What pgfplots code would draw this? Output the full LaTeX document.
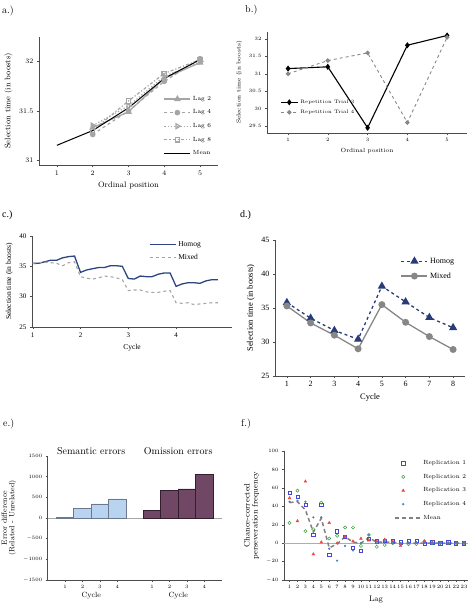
\documentclass[border=0pt]{standalone}
\usepackage{fontspec}
\usepackage{pgfplots}
\pgfplotsset{compat=1.18}
\newfontfamily\tms{Liberation Serif}
\newcommand\fs[1]{\fontsize{#1}{#1}\selectfont}
\definecolor{hblue}{RGB}{45,70,130}
\definecolor{dblue}{RGB}{40,60,120}
\definecolor{lgray}{RGB}{165,165,165}
\definecolor{mgray}{RGB}{135,135,135}
\definecolor{semblue}{RGB}{185,212,240}
\definecolor{semedge}{RGB}{110,120,140}
\definecolor{ompurple}{RGB}{112,72,102}
\definecolor{omedge}{RGB}{50,30,45}
\definecolor{r1}{RGB}{70,70,220}
\definecolor{r2}{RGB}{60,160,60}
\definecolor{r3}{RGB}{235,70,70}
\definecolor{r4}{RGB}{70,130,190}
\pgfplotsset{
  every axis/.append style={scale only axis, axis lines*=left,
    axis line style={-,black!70,line width=0.4pt}, tick align=outside,
    major tick length=2pt, tick style={black!70,line width=0.4pt}, clip=false},
  longleg/.style={legend image code/.code={\draw[mark repeat=2,mark phase=2] plot coordinates {(0pt,0pt)(13pt,0pt)(26pt,0pt)};}},
}
\begin{document}
\begin{tikzpicture}
\useasboundingbox (0pt,0pt) rectangle (470pt,-603pt);
\node[anchor=base west,font=\fs{10},inner sep=0] at (2pt,-13pt) {a.)};
\node[anchor=base west,font=\fs{10},inner sep=0] at (245pt,-12pt) {b.)};
\node[anchor=base west,font=\tms\fs{10},inner sep=0] at (2pt,-217pt) {c.)};
\node[anchor=base west,font=\tms\fs{10},inner sep=0] at (240pt,-217pt) {d.)};
\node[anchor=base west,font=\fs{10},inner sep=0] at (3pt,-426pt) {e.)};
\node[anchor=base west,font=\fs{10},inner sep=0] at (241pt,-426pt) {f.)};

% ---------- a
\begin{axis}[at={(39pt,-165pt)}, anchor=south west, width=179pt, height=128pt,
  xmin=0.5, xmax=5.5, ymin=30.95, ymax=32.25, xtick={1,2,3,4,5}, ytick={31,31.5,32},
  tick label style={font=\fs{7}}, label style={font=\fs{8}},
  xlabel={Ordinal position}, ylabel={Selection time (in boosts)},
  legend style={draw=none, fill=none, font=\fs{6}, at={(0.99,0.57)}, anchor=north east, row sep=4pt},
  legend cell align=left, longleg]
\addplot[lgray, line width=1.2pt, mark=triangle*, mark size=2.8pt] coordinates {(2,31.33)(3,31.49)(4,31.83)(5,31.99)};
\addplot[lgray, line width=1.2pt, dashed, mark=*, mark size=2.2pt, mark options={solid}] coordinates {(2,31.26)(3,31.5)(4,31.8)(5,32.03)};
\addplot[lgray, line width=1.2pt, dotted, mark=triangle, mark size=2.8pt, mark options={solid,rotate=-90}] coordinates {(2,31.35)(3,31.55)(4,31.85)(5,32.0)};
\addplot[lgray, line width=1.2pt, dash dot, mark=square, mark size=2.2pt, mark options={solid}] coordinates {(2,31.3)(3,31.6)(4,31.88)(5,32.02)};
\addplot[black, line width=1pt] coordinates {(1,31.15)(2,31.3)(3,31.53)(4,31.83)(5,32.02)};
\legend{Lag 2, Lag 4, Lag 6, Lag 8, Mean}
\end{axis}

% ---------- b
\begin{axis}[at={(267pt,-133pt)}, anchor=south west, width=200pt, height=101pt,
  xmin=0.47, xmax=5.5, ymin=29.3, ymax=32.2, xtick={1,2,3,4,5}, ytick={29.5,30,30.5,31,31.5,32},
  tick label style={font=\fs{4.5}}, label style={font=\fs{6}},
  xlabel={Ordinal position}, ylabel={Selection time (in boosts)},
  legend style={draw=none, fill=none, font=\fs{5}, at={(0.05,0.37)}, anchor=north west, row sep=1pt},
  legend cell align=left]
\addplot[black, line width=1.1pt, mark=diamond*, mark size=2.2pt] coordinates {(1,31.15)(2,31.2)(3,29.45)(4,31.82)(5,32.1)};
\addplot[mgray, line width=0.9pt, dashed, mark=*, mark size=1.8pt, mark options={solid}] coordinates {(1,31.0)(2,31.38)(3,31.6)(4,29.6)(5,32.05)};
\legend{Repetition Trial 3, Repetition Trial 4}
\end{axis}

% ---------- c
\begin{axis}[at={(32pt,-327pt)}, anchor=south west, width=200pt, height=91pt,
  xmin=0.985, xmax=5.17, ymin=25, ymax=40, xtick={1,2,3,4}, ytick={25,30,35,40},
  /pgf/number format/assume math mode=true,
  tick label style={font=\tms\fs{7}}, label style={font=\tms\fs{7.5}},
  xlabel={Cycle}, ylabel={Selection time (in boosts)},
  legend style={draw=none, fill=none, font=\tms\fs{7.5}, at={(0.87,0.99)}, anchor=north east, row sep=3pt},
  legend cell align=left, longleg]
\addplot[hblue, line width=1.3pt] coordinates {
(1,35.48)(1.125,35.5)(1.25,35.75)(1.375,36.0)(1.5,36.0)(1.625,36.4)(1.75,36.6)(1.875,36.7)
(2,34.0)(2.125,34.4)(2.25,34.6)(2.375,34.8)(2.5,34.8)(2.625,35.1)(2.75,35.1)(2.875,35.0)
(3,33.0)(3.125,32.9)(3.25,33.4)(3.375,33.3)(3.5,33.3)(3.625,33.7)(3.75,33.9)(3.875,33.9)
(4,31.7)(4.125,32.1)(4.25,32.3)(4.375,32.3)(4.5,32.2)(4.625,32.6)(4.75,32.8)(4.875,32.8)};
\addplot[lgray, line width=1.1pt, dashed] coordinates {
(1,35.5)(1.125,35.6)(1.25,35.7)(1.375,35.6)(1.5,35.5)(1.625,35.1)(1.75,35.6)(1.875,35.75)
(2,33.3)(2.125,33.05)(2.25,32.9)(2.375,33.1)(2.5,33.4)(2.625,33.3)(2.75,33.1)(2.875,32.8)
(3,31.0)(3.125,31.1)(3.25,31.1)(3.375,30.8)(3.5,30.7)(3.625,30.7)(3.75,30.9)(3.875,31.0)
(4,29.0)(4.125,28.9)(4.25,29.0)(4.375,28.7)(4.5,28.8)(4.625,28.9)(4.75,29.0)(4.875,29.0)};
\legend{Homog, Mixed}
\end{axis}

% ---------- d
\begin{axis}[at={(275pt,-376pt)}, anchor=south west, width=190pt, height=136pt,
  xmin=0.5, xmax=8.5, ymin=25, ymax=45, xtick={1,...,8}, ytick={25,30,35,40,45},
  /pgf/number format/assume math mode=true,
  tick label style={font=\tms\fs{8}}, label style={font=\tms\fs{8.5}},
  xlabel={Cycle}, ylabel={Selection time (in boosts)},
  legend style={draw=none, fill=none, font=\tms\fs{8}, at={(0.97,0.9)}, anchor=north east, row sep=4pt},
  legend cell align=left, longleg]
\addplot[dblue, line width=1.3pt, dashed, mark=triangle*, mark size=3.5pt, mark options={solid}] coordinates {(1,35.8)(2,33.5)(3,31.7)(4,30.4)(5,38.2)(6,35.9)(7,33.6)(8,32.1)};
\addplot[mgray, line width=1.3pt, mark=*, mark size=2.8pt] coordinates {(1,35.3)(2,32.8)(3,31.0)(4,29.0)(5,35.5)(6,32.9)(7,30.8)(8,28.9)};
\legend{Homog, Mixed}
\end{axis}

% ---------- e
\begin{axis}[at={(47.7pt,-580pt)}, anchor=south west, width=174pt, height=124pt,
  xmin=0, xmax=10, ymin=-1500, ymax=1500, ytick={-1500,-1000,-500,0,500,1000,1500},
  xtick={1,2,3,4,6,7,8,9}, xticklabels={1,2,3,4,1,2,3,4},
  /pgf/number format/1000 sep={},
  tick label style={font=\fs{5}}, label style={font=\fs{7.5}},
  ylabel={Error difference\\(Related - Unrelated)}, ylabel style={align=center}]
\addplot[gray!70, line width=0.6pt] coordinates {(0,0)(10,0)};
\addplot[ybar, bar width=17.4pt, bar shift=0pt, fill=semblue, draw=semedge, line width=0.6pt] coordinates {(1,10)(2,234)(3,339)(4,460)};
\addplot[ybar, bar width=17.4pt, bar shift=0pt, fill=ompurple, draw=omedge, line width=0.6pt] coordinates {(6,177)(7,661)(8,702)(9,1048)};
\node[anchor=base, font=\fs{10}] at (axis cs:2.5,1500) [yshift=2pt] {Semantic errors};
\node[anchor=base, font=\fs{10}] at (axis cs:7.5,1500) [yshift=2pt] {Omission errors};
\node[anchor=base, font=\fs{7.5}] at (axis cs:2.5,-1500) [yshift=-17pt] {Cycle};
\node[anchor=base, font=\fs{7.5}] at (axis cs:7.5,-1500) [yshift=-17pt] {Cycle};
\end{axis}

% ---------- f
\begin{axis}[at={(284pt,-580pt)}, anchor=south west, width=184pt, height=129pt,
  xmin=0.3, xmax=23.5, ymin=-40, ymax=100, xtick={1,...,23}, ytick={-40,-20,0,20,40,60,80,100},
  tick label style={font=\fs{5.5}}, label style={font=\fs{8}},
  xlabel={Lag}, ylabel={Chance-corrected\\perseveration frequency}, ylabel style={align=center},
  legend style={draw=none, fill=none, font=\fs{6}, at={(0.58,0.96)}, anchor=north west, row sep=4pt},
  legend cell align=left]
\addplot[r4!60, line width=0.5pt, forget plot] coordinates {(0.3,0)(23.5,0)};
\addplot[r1, only marks, mark=square, mark size=1.6pt, line width=0.5pt] coordinates {
(1,55)(2,50)(3,42)(4,9)(5,42)(6,-13)(7,13)(8,7)(9,-5)(10,-8)(11,5)(12,2)(13,3)(14,2)(15,1)(16,3)(17,3)(18,-1)(19,1)(20,0)(21,1)(22,0)(23,0)};
\addplot[r2, only marks, mark=o, mark size=1.6pt, line width=0.5pt] coordinates {
(1,22)(2,57)(3,13)(4,15)(5,44)(6,5)(7,8)(8,17)(9,17)(10,-3)(11,9)(12,-4)(13,-2)(14,0)(15,-1)(16,-1)(17,-1)(18,2)(19,0)(20,0)(21,0)(22,0)(23,0)};
\addplot[r3, only marks, mark=triangle*, mark size=1.6pt] coordinates {
(1,49)(2,24)(3,67)(4,-12)(5,1)(6,22)(7,0)(8,7)(9,2)(10,5)(11,3)(12,2)(13,4)(14,2)(15,-3)(16,0)(17,0)(18,2)(19,1)(20,0)(21,0)(22,0)(23,0)};
\addplot[r4, only marks, mark=*, mark size=0.9pt] coordinates {
(1,45)(2,46)(3,45)(4,28)(5,28)(6,-6)(7,-19)(8,-3)(9,-8)(10,0)(11,9)(12,0)(13,2)(14,0)(15,0)(16,0)(17,1)(18,0)(19,0)(20,0)(21,0)(22,0)(23,0)};
\addplot[gray, line width=1.5pt, dash pattern=on 4pt off 3pt, longleg] coordinates {
(1,44)(2,45)(3,36)(4,12)(5,27)(6,-5)(7,-1)(8,7)(9,1)(10,0)(11,6)(12,1)(13,1)(14,1)(15,0)(16,0)(17,0)(18,0)(19,0)(20,0)(21,0)(22,0)(23,0)};
\legend{Replication 1, Replication 2, Replication 3, Replication 4, Mean}
\end{axis}
\end{tikzpicture}
\end{document}
